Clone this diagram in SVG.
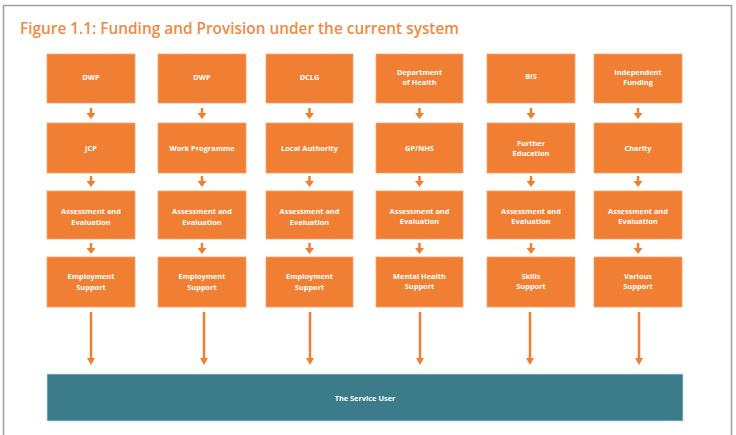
<svg xmlns="http://www.w3.org/2000/svg" width="736" height="435" viewBox="0 0 736 435">
<style>
.box{fill:#f07f34;stroke:#f6a56e;stroke-width:0.8}
.lbl{font-family:"Open Sans","Noto Sans",sans-serif;font-weight:700;font-size:7.4px;fill:#fff;text-anchor:middle}
.title{font-family:"Open Sans","Noto Sans",sans-serif;font-weight:600;font-size:17px;fill:#f08a44}
.sh{stroke:#f07f34;stroke-width:2.5;fill:none}
.hd{fill:#f07f34}
</style>
<rect width="736" height="435" fill="#fff"/>
<path d="M3.5 440 V5.5 H731.5 V440" fill="none" stroke="#a0a0a0" stroke-width="1.6"/>
<text class="title" x="20" y="34" textLength="439" lengthAdjust="spacingAndGlyphs">Figure 1.1: Funding and Provision under the current system</text>
<g id="connectors">
<g id="c1"><path class="sh" d="M91 108v6M91 176v6M91 243v6M91 312v47"/><path class="hd" d="M86.5 113h9l-4.5 6zM86.5 181h9l-4.5 6zM86.5 248h9l-4.5 6zM87 358h8l-4 7z"/></g>
<g id="c2"><path class="sh" d="M202 108v6M202 176v6M202 243v6M204 312v47"/><path class="hd" d="M197.5 113h9l-4.5 6zM197.5 181h9l-4.5 6zM197.5 248h9l-4.5 6zM200 358h8l-4 7z"/></g>
<g id="c3"><path class="sh" d="M309.5 108v6M309.5 176v6M309.5 243v6M310 312v47"/><path class="hd" d="M305 113h9l-4.5 6zM305 181h9l-4.5 6zM305 248h9l-4.5 6zM306 358h8l-4 7z"/></g>
<g id="c4"><path class="sh" d="M419.5 108v6M419.5 176v6M419.5 243v6M420 312v47"/><path class="hd" d="M415 113h9l-4.5 6zM415 181h9l-4.5 6zM415 248h9l-4.5 6zM416 358h8l-4 7z"/></g>
<g id="c5"><path class="sh" d="M531 108v6M531 176v6M531 243v6M530 312v47"/><path class="hd" d="M526.5 113h9l-4.5 6zM526.5 181h9l-4.5 6zM526.5 248h9l-4.5 6zM526 358h8l-4 7z"/></g>
<g id="c6"><path class="sh" d="M638 108v6M638 176v6M638 243v6M639 312v47"/><path class="hd" d="M633.5 113h9l-4.5 6zM633.5 181h9l-4.5 6zM633.5 248h9l-4.5 6zM635 358h8l-4 7z"/></g>
</g>
<g id="col1">
<g id="n-dwp1"><rect class="box" x="47" y="54" width="88" height="49"/><text class="lbl" x="91" y="80">DWP</text></g>
<g id="n-jcp"><rect class="box" x="47" y="123" width="88" height="50"/><text class="lbl" x="91" y="151">JCP</text></g>
<g id="n-ae1"><rect class="box" x="47" y="191" width="88" height="48"/><text class="lbl" x="91" y="214">Assessment and</text><text class="lbl" x="91" y="224.5">Evaluation</text></g>
<g id="n-es1"><rect class="box" x="47" y="257" width="88" height="50"/><text class="lbl" x="91" y="279">Employment</text><text class="lbl" x="91" y="289.5">Support</text></g>
</g>
<g id="col2">
<g id="n-dwp2"><rect class="box" x="158" y="54" width="88" height="49"/><text class="lbl" x="202" y="80">DWP</text></g>
<g id="n-wp"><rect class="box" x="158" y="123" width="88" height="50"/><text class="lbl" x="202" y="151">Work Programme</text></g>
<g id="n-ae2"><rect class="box" x="158" y="191" width="88" height="48"/><text class="lbl" x="202" y="214">Assessment and</text><text class="lbl" x="202" y="224.5">Evaluation</text></g>
<g id="n-es2"><rect class="box" x="158" y="257" width="88" height="50"/><text class="lbl" x="202" y="279">Employment</text><text class="lbl" x="202" y="289.5">Support</text></g>
</g>
<g id="col3">
<g id="n-dclg"><rect class="box" x="266" y="54" width="87" height="49"/><text class="lbl" x="309.5" y="80">DCLG</text></g>
<g id="n-la"><rect class="box" x="266" y="123" width="87" height="50"/><text class="lbl" x="309.5" y="151">Local Authority</text></g>
<g id="n-ae3"><rect class="box" x="266" y="191" width="87" height="48"/><text class="lbl" x="309.5" y="214">Assessment and</text><text class="lbl" x="309.5" y="224.5">Evaluation</text></g>
<g id="n-es3"><rect class="box" x="266" y="257" width="87" height="50"/><text class="lbl" x="309.5" y="279">Employment</text><text class="lbl" x="309.5" y="289.5">Support</text></g>
</g>
<g id="col4">
<g id="n-doh"><rect class="box" x="376" y="54" width="87" height="49"/><text class="lbl" x="419.5" y="75">Department</text><text class="lbl" x="419.5" y="85">of Health</text></g>
<g id="n-gp"><rect class="box" x="376" y="123" width="87" height="50"/><text class="lbl" x="419.5" y="151">GP/NHS</text></g>
<g id="n-ae4"><rect class="box" x="376" y="191" width="87" height="48"/><text class="lbl" x="419.5" y="213.5">Assessment and</text><text class="lbl" x="419.5" y="224">Evaluation</text></g>
<g id="n-mh"><rect class="box" x="376" y="257" width="87" height="50"/><text class="lbl" x="419.5" y="278.5">Mental Health</text><text class="lbl" x="419.5" y="289">Support</text></g>
</g>
<g id="col5">
<g id="n-bis"><rect class="box" x="487" y="54" width="88" height="49"/><text class="lbl" x="531" y="79">BIS</text></g>
<g id="n-fe"><rect class="box" x="487" y="123" width="88" height="50"/><text class="lbl" x="531" y="146">Further</text><text class="lbl" x="531" y="156">Education</text></g>
<g id="n-ae5"><rect class="box" x="487" y="191" width="88" height="48"/><text class="lbl" x="531" y="213.5">Assessment and</text><text class="lbl" x="531" y="224">Evaluation</text></g>
<g id="n-ss"><rect class="box" x="487" y="257" width="88" height="50"/><text class="lbl" x="531" y="278.5">Skills</text><text class="lbl" x="531" y="289">Support</text></g>
</g>
<g id="col6">
<g id="n-if"><rect class="box" x="594" y="54" width="88" height="49"/><text class="lbl" x="638" y="75">Independent</text><text class="lbl" x="638" y="85">Funding</text></g>
<g id="n-ch"><rect class="box" x="594" y="123" width="88" height="50"/><text class="lbl" x="638" y="151">Charity</text></g>
<g id="n-ae6"><rect class="box" x="594" y="191" width="88" height="48"/><text class="lbl" x="638" y="213.5">Assessment and</text><text class="lbl" x="638" y="224">Evaluation</text></g>
<g id="n-vs"><rect class="box" x="594" y="257" width="88" height="50"/><text class="lbl" x="638" y="278.5">Various</text><text class="lbl" x="638" y="289">Support</text></g>
</g>
<g id="n-user"><rect x="47" y="374" width="636" height="47" fill="#3c7b89" stroke="#b8dfe8" stroke-width="0.8"/><text class="lbl" x="365" y="400.5">The Service User</text></g>
</svg>
